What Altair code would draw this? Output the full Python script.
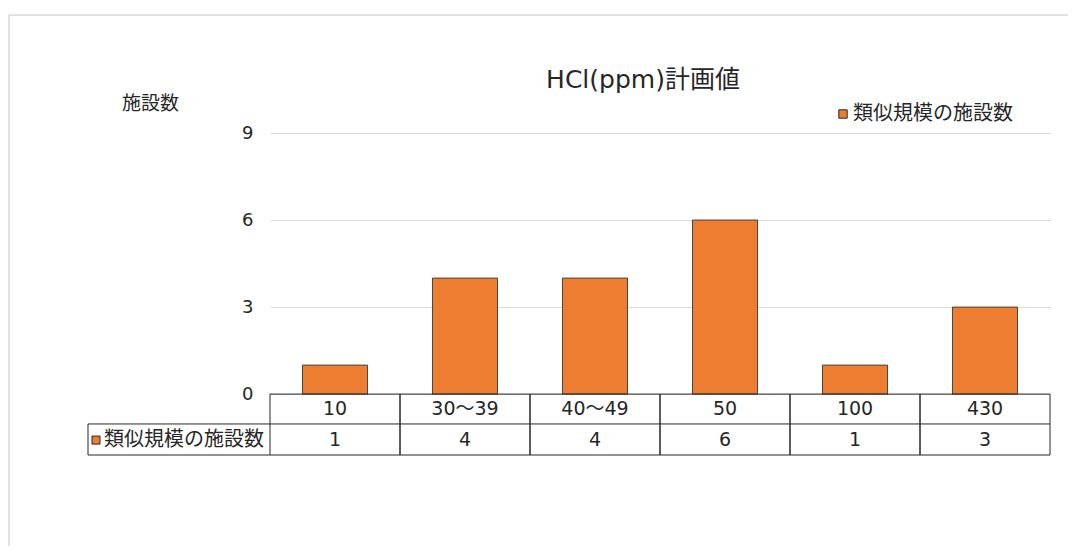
import altair as alt
import pandas as pd

categories = ["10", "30～39", "40～49", "50", "100", "430"]
counts = [1, 4, 4, 6, 1, 3]
series_name = "類似規模の施設数"
chart_title = "HCl(ppm)計画値"
y_title = "施設数"
y_ticks = [0, 3, 6, 9]

FONT = "DejaVu Sans, Noto Sans CJK JP"
TXT = "#262626"
ORANGE = "#ED7D31"

df = pd.DataFrame({"cat": categories, "count": counts, "series": [series_name] * len(categories)})
one = pd.DataFrame({"k": [0]})

W, H = 780, 322
Y_MIN, Y_MAX = -2.1, 9
ROW1 = -1.03
ROW2 = -2.1

yscale = alt.Scale(domain=[Y_MIN, Y_MAX], nice=False, zero=False)
xenc = alt.X("cat:N", sort=categories, scale=alt.Scale(paddingInner=0, paddingOuter=0), axis=None)

base = alt.Chart(df)

bars = base.mark_bar(width=alt.RelativeBandSize(0.5), stroke=TXT, strokeWidth=0.8).encode(
    x=xenc,
    y=alt.Y("count:Q", scale=yscale,
            axis=alt.Axis(values=y_ticks, grid=True, gridColor="#d9d9d9", gridWidth=1,
                          domain=False, ticks=False, labelFontSize=18, labelPadding=17,
                          labelColor=TXT, labelFont=FONT,
                          title=y_title, titleAngle=0, titleX=-120, titleY=-30,
                          titleAlign="center", titleBaseline="middle", titleFontSize=19,
                          titleFontWeight="normal", titleColor=TXT, titleFont=FONT)),
    y2=alt.datum(0),
    color=alt.Color("series:N", scale=alt.Scale(range=[ORANGE]),
                    legend=alt.Legend(orient="none", legendX=563, legendY=-29, title=None,
                                      symbolType="square", symbolSize=70,
                                      symbolStrokeColor=TXT, symbolStrokeWidth=1,
                                      labelFontSize=20, labelFont=FONT, labelColor=TXT,
                                      labelOffset=0, symbolOpacity=1)),
)

# data table: category row and value row
cat_text = base.mark_text(fontSize=19, font=FONT, color=TXT, baseline="middle").encode(
    x=xenc, y=alt.datum(-0.517), text="cat:N")
val_text = base.mark_text(fontSize=19, font=FONT, color=TXT, baseline="middle").encode(
    x=xenc, y=alt.datum(-1.586), text="count:Q")

vlines_l = base.mark_rule(color=TXT, strokeWidth=1).encode(
    x=alt.X("cat:N", sort=categories, bandPosition=0, axis=None),
    y=alt.datum(0), y2=alt.datum(ROW2))
vlines_r = base.mark_rule(color=TXT, strokeWidth=1).encode(
    x=alt.X("cat:N", sort=categories, bandPosition=1, axis=None),
    y=alt.datum(0), y2=alt.datum(ROW2))

hline0 = alt.Chart(one).mark_rule(color=TXT, strokeWidth=1).encode(
    x=alt.value(0), x2=alt.value(W), y=alt.datum(0))
hline1 = alt.Chart(one).mark_rule(color=TXT, strokeWidth=1).encode(
    x=alt.value(-182), x2=alt.value(W), y=alt.datum(ROW1))
hline2 = alt.Chart(one).mark_rule(color=TXT, strokeWidth=1).encode(
    x=alt.value(-182), x2=alt.value(W), y=alt.datum(ROW2))
vline_leg = alt.Chart(one).mark_rule(color=TXT, strokeWidth=1).encode(
    x=alt.value(-182), y=alt.datum(ROW1), y2=alt.datum(ROW2))

leg_sq = alt.Chart(one).mark_square(size=64, color=ORANGE, stroke=TXT, strokeWidth=1, opacity=1).encode(
    x=alt.value(-174), y=alt.datum(-1.586))
leg_txt = alt.Chart(one).mark_text(fontSize=20, font=FONT, color=TXT, align="left", baseline="middle").encode(
    x=alt.value(-166), y=alt.datum(-1.586), text=alt.value(series_name))

title_txt = alt.Chart(one).mark_text(fontSize=25, font=FONT, color=TXT, align="center", baseline="middle").encode(
    x=alt.value(373), y=alt.value(-53), text=alt.value(chart_title))

frame_top = alt.Chart(one).mark_rule(color="#d9d9d9", strokeWidth=1.5).encode(
    x=alt.value(-261), x2=alt.value(820), y=alt.value(-118))
frame_left = alt.Chart(one).mark_rule(color="#d9d9d9", strokeWidth=1.5).encode(
    x=alt.value(-261), y=alt.value(-118), y2=alt.value(420))

chart = alt.layer(
    bars, frame_top, frame_left, cat_text, val_text, vlines_l, vlines_r,
    hline0, hline1, hline2, vline_leg, leg_sq, leg_txt, title_txt,
).properties(
    width=W, height=H,
    autosize=alt.AutoSizeParams(type="none"),
    padding={"left": 262, "top": 125, "right": 18, "bottom": 91},
).configure(font=FONT).configure_view(stroke="transparent", strokeWidth=0)

chart.save("out.html", embed_options={"renderer": "svg", "actions": False})
